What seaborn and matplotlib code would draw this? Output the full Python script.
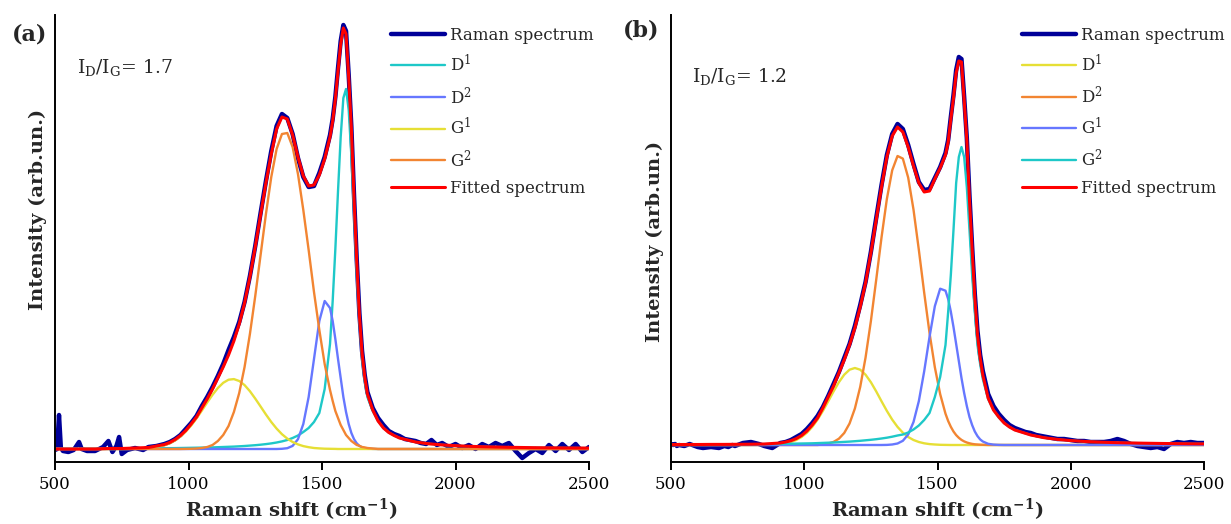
import matplotlib
matplotlib.use('Agg')
import matplotlib.pyplot as plt
import seaborn as sns

# wavenumber grid of the fitted curve and its components (cm-1)
shift = [500, 550, 600, 650, 700, 750, 800, 850,
         910, 930, 950, 970, 990, 1010, 1030, 1050, 1070, 1090,
         1110, 1130, 1150, 1170, 1190, 1210, 1230, 1250, 1270, 1290,
         1310, 1330, 1350, 1370, 1390, 1410, 1430, 1450, 1470, 1490,
         1510, 1530, 1540, 1550, 1560, 1570, 1580, 1590, 1600, 1610, 1620, 1630, 1640, 1650, 1660, 1670, 1690,
         1710, 1730, 1750, 1770, 1790,
         1850, 1900, 1950, 2000, 2050, 2100, 2150, 2200, 2250, 2300, 2350, 2400, 2450, 2500]

# wavenumber grid of the measured spectra (cm-1)
raman_shift = [500, 508, 515, 522, 530, 550, 570, 590, 600, 620, 650, 680, 700, 715, 730, 740, 750, 770, 800, 830, 850, 880,
               910, 930, 950, 970, 990, 1010, 1030, 1050, 1070, 1090,
               1110, 1130, 1150, 1170, 1190, 1210, 1230, 1250, 1270, 1290,
               1310, 1330, 1350, 1370, 1390, 1410, 1430, 1450, 1470, 1490,
               1510, 1530, 1540, 1550, 1560, 1570, 1580, 1590, 1600, 1610, 1620, 1630, 1640, 1650, 1660, 1670, 1690,
               1710, 1730, 1750, 1770, 1790,
               1810, 1830, 1850, 1870, 1890, 1910, 1930, 1950, 1975, 2000, 2025, 2050, 2075, 2100,
               2125, 2150, 2175, 2200, 2225, 2250, 2275, 2300, 2325, 2350, 2375, 2400, 2425, 2450, 2475, 2500]

# ---- panel (a), I_D/I_G = 1.7 ----
raman_a = [-1, 0, 34, 1, -2, -3, -1, 7, 0, -2, -2, 2, 8, -3, 3, 12, -5, -1, 1, -1, 2, 3,
           5, 7, 10, 14, 20, 26, 33, 43, 52, 62,
           73, 85, 99, 112, 127, 147, 173, 203, 236, 268,
           298, 323, 335, 331, 315, 291, 272, 262, 263, 276,
           292, 314, 330, 352, 381, 408, 424, 418, 374, 322, 253, 190, 136, 98, 74, 57, 41,
           31, 24, 18, 15, 13,
           10, 9, 8, 6, 5, 9, 4, 6, 2, 5, 1, 4, 0, 5,
           2, 6, 3, 6, -2, -9, -4, 0, -4, 4, -2, 5, -1, 5, -3, 2]
d1_a = [0.25, 0.3, 0.3, 0.35, 0.4, 0.45, 0.5, 0.6,
        0.8, 0.85, 0.9, 1.0, 1.1, 1.2, 1.3, 1.4, 1.5, 1.6,
        1.8, 2.0, 2.2, 2.4, 2.7, 3.0, 3.4, 3.8, 4.3, 4.9,
        5.6, 6.5, 7.6, 9.0, 11, 13.5, 17, 21, 27, 36,
        60, 105, 148, 200, 258, 312, 351, 360, 339, 293, 236, 175, 128, 90, 68, 52, 38,
        28, 21, 16.5, 13.5, 11,
        7, 5.2, 4.1, 3.3, 2.7, 2.3, 2.0, 1.7, 1.5, 1.3, 1.2, 1.1, 1.0, 0.9]
d2_a = [0, 0, 0, 0, 0, 0, 0, 0,
        0, 0, 0, 0, 0, 0, 0, 0, 0, 0,
        0, 0, 0, 0, 0, 0, 0, 0, 0, 0,
        0, 0, 0.2, 0.8, 3.1, 9.8, 25, 52, 90, 128,
        148, 141, 128, 110, 90, 71, 52, 37, 25, 16, 9.8, 5.7, 3.1, 1.7, 0.8, 0.4, 0.1,
        0, 0, 0, 0, 0,
        0, 0, 0, 0, 0, 0, 0, 0, 0, 0, 0, 0, 0, 0]
g1_a = [0, 0, 0, 0, 0, 0, 0.2, 0.8,
        3.7, 5.7, 8.6, 12.5, 17.5, 23.5, 30.6, 38.4, 46.5, 54.2,
        61, 66.2, 69.3, 69.9, 68, 63.9, 57.8, 50.4, 42.5, 34.5,
        27, 20.4, 14.8, 10.4, 7, 4.6, 2.9, 1.8, 1.0, 0.6,
        0.3, 0.2, 0.15, 0.1, 0, 0, 0, 0, 0, 0, 0, 0, 0, 0, 0, 0, 0,
        0, 0, 0, 0, 0,
        0, 0, 0, 0, 0, 0, 0, 0, 0, 0, 0, 0, 0, 0]
g2_a = [0, 0, 0, 0, 0, 0, 0, 0,
        0, 0, 0, 0, 0.1, 0.2, 0.5, 1, 2, 4,
        8, 14, 23, 37, 56, 82, 115, 153, 194, 235,
        272, 300, 315, 316, 302, 275, 239, 199, 157, 119,
        85, 59, 48, 38, 31, 24, 19, 14, 11, 8, 6, 4, 3.2, 2, 1.6, 1, 0.5,
        0, 0, 0, 0, 0,
        0, 0, 0, 0, 0, 0, 0, 0, 0, 0, 0, 0, 0, 0]
fit_a = [0, 0, 0, 0, 0.5, 0.5, 1, 1.5,
         4.5, 6.5, 9.5, 13.5, 18.5, 25, 32, 41, 50, 60,
         71, 82, 94, 108, 125, 146, 172, 202, 234, 266,
         295, 320, 332, 330, 314, 292, 273, 263, 264, 274,
         290, 312, 328, 350, 378, 405, 421, 415, 372, 320, 250, 188, 134, 96, 72, 55, 39,
         28, 21, 16.5, 13.5, 11,
         7, 5.2, 4.1, 3.3, 2.7, 2.3, 2.0, 1.7, 1.5, 1.3, 1.2, 1.1, 1.0, 0.9]

# ---- panel (b), I_D/I_G = 1.2 ----
raman_b = [1, 0, 1, -1, 0, -1, 1, -1, -2, -3, -2, -3, -1, -2, 0, -1, 0, 2, 3, 1, -1, -3,
           2, 3, 5, 8, 11, 16, 22, 29, 38, 49,
           61, 73, 87, 101, 119, 140, 163, 193, 227, 260,
           290, 311, 321, 316, 300, 281, 263, 255, 256, 267,
           278, 292, 305, 328, 350, 375, 388, 386, 348, 307, 249, 198, 151, 114, 90, 74, 51,
           39, 31, 25, 20, 17,
           15, 13, 12, 10, 9, 8, 7, 6, 6, 5, 4, 4, 3, 3,
           3, 4, 6, 4, 1, -1, -2, -3, -2, -4, 1, 3, 2, 3, 2, 2]
d1_b = [0, 0, 0, 0, 0, 0, 0, 0.1,
        0.9, 1.7, 3.0, 5.0, 8.0, 12.3, 18.1, 25.4, 34.1, 43.7,
        53.6, 62.8, 70.3, 75.3, 77, 75.3, 70.3, 62.8, 53.6, 43.7,
        34.1, 25.4, 18.1, 12.3, 8.0, 5.0, 3.0, 1.7, 0.9, 0.5,
        0.2, 0.1, 0.05, 0, 0, 0, 0, 0, 0, 0, 0, 0, 0, 0, 0, 0, 0,
        0, 0, 0, 0, 0,
        0, 0, 0, 0, 0, 0, 0, 0, 0, 0, 0, 0, 0, 0]
d2_b = [0, 0, 0, 0, 0, 0, 0, 0,
        0, 0, 0, 0, 0, 0, 0, 0, 0.6, 1.5,
        3.1, 6.3, 12, 21.5, 36.5, 58.1, 87.4, 123.8, 165.2, 207.7,
        246, 274.7, 289, 286.4, 267.4, 235.3, 195.1, 152.4, 112.2, 77.8,
        50.9, 31.3, 24, 18.2, 13.5, 9.9, 7.2, 5.1, 3.6, 2.5, 1.7, 1.1, 0.7, 0.5, 0.3, 0.2, 0,
        0, 0, 0, 0, 0,
        0, 0, 0, 0, 0, 0, 0, 0, 0, 0, 0, 0, 0, 0]
g1_b = [0, 0, 0, 0, 0, 0, 0, 0,
        0, 0, 0, 0, 0, 0, 0, 0, 0, 0,
        0, 0, 0, 0, 0, 0, 0, 0, 0, 0,
        0.1, 0.5, 1.5, 4.2, 10.5, 23, 43.9, 73.6, 108, 138.8,
        156.3, 154.3, 146, 133.4, 118, 101, 84, 67, 52, 39, 28, 19.9, 13.5, 8.9, 5.6, 3.5, 1.2,
        0.4, 0.1, 0, 0, 0,
        0, 0, 0, 0, 0, 0, 0, 0, 0, 0, 0, 0, 0, 0]
g2_b = [0.4, 0.45, 0.5, 0.55, 0.6, 0.7, 0.8, 0.9,
        1.1, 1.2, 1.3, 1.4, 1.5, 1.6, 1.7, 1.9, 2.1, 2.3,
        2.5, 2.8, 3.1, 3.4, 3.8, 4.2, 4.7, 5.2, 5.8, 6.5,
        7.3, 8.3, 9.5, 10.5, 12.5, 15.5, 19.5, 25, 32, 48,
        68, 100, 133, 170, 215, 262, 288, 298, 288, 258, 215, 170, 133, 100, 81, 66, 46,
        35, 27.5, 22, 18, 15,
        10, 7.3, 5.6, 4.4, 3.6, 3.0, 2.5, 2.2, 1.9, 1.7, 1.5, 1.35, 1.2, 1.1]
fit_b = [0.4, 0.5, 0.5, 0.6, 0.6, 0.7, 0.8, 1,
         2, 3, 4.3, 6.4, 9.5, 14, 20, 27, 37, 48,
         59, 72, 85, 100, 117, 138, 162, 192, 225, 258,
         288, 309, 318, 313, 298, 279, 262, 253, 254, 266,
         277, 290, 303, 326, 347, 372, 384, 383, 345, 305, 245, 195, 147, 110, 87, 70, 47,
         35, 28, 22, 18, 15,
         10, 7.3, 5.6, 4.4, 3.6, 3.0, 2.5, 2.2, 1.9, 1.7, 1.5, 1.35, 1.2, 1.1]

navy = '#000099'
cyan = '#1ec8c8'
periwinkle = '#6677ff'
yellow = '#e6df35'
orange = '#f28532'
red = '#ff0000'

sns.set_style('ticks')
plt.rcParams['font.family'] = ['DejaVu Serif']
plt.rcParams['mathtext.fontset'] = 'dejavuserif'

fig = plt.figure(figsize=(12.31, 5.24), dpi=100)
ax_a = fig.add_axes([55 / 1231, 62 / 524, 534 / 1231, 447 / 524])
ax_b = fig.add_axes([671 / 1231, 62 / 524, 533 / 1231, 447 / 524])

panels = [
    (ax_a, raman_a, [('D$^1$', d1_a, cyan), ('D$^2$', d2_a, periwinkle),
                     ('G$^1$', g1_a, yellow), ('G$^2$', g2_a, orange)],
     fit_a, '1.7', (-13, 434), (0.629, 0.973), (0.041, 0.870), (-0.032, 0.566), 0.442),
    (ax_b, raman_b, [('D$^1$', d1_b, yellow), ('D$^2$', d2_b, orange),
                     ('G$^1$', g1_b, periwinkle), ('G$^2$', g2_b, cyan)],
     fit_b, '1.2', (-17, 430), (0.6585, 0.974), (0.039, 0.850), (-0.030, 0.494), 0.5),
]

for ax, raman, comps, fit, ratio, ylim, leg_pos, txt_pos, ylab_pos, xlab_x in panels:
    sns.lineplot(x=raman_shift, y=raman, ax=ax, color=navy, lw=3.2,
                 label='Raman spectrum', estimator=None)
    for name, vals, col in comps:
        sns.lineplot(x=shift, y=vals, ax=ax, color=col, lw=1.7, label=name, estimator=None)
    sns.lineplot(x=shift, y=fit, ax=ax, color=red, lw=2.2, label='Fitted spectrum', estimator=None)

    ax.set_xlim(500, 2500)
    ax.set_ylim(*ylim)
    ax.set_xticks([500, 1000, 1500, 2000, 2500])
    ax.set_yticks([])
    sns.despine(ax=ax)
    for s in ['left', 'bottom']:
        ax.spines[s].set_linewidth(1.4)
        ax.spines[s].set_color('black')
    ax.tick_params(axis='x', direction='out', length=6, width=1.4, labelsize=12, pad=4, colors='black')

    ax.set_xlabel('Raman shift (cm$^{\\mathbf{-1}}$)', fontsize=14, fontweight='bold')
    ax.xaxis.label.set_va('center')
    ax.xaxis.set_label_coords(xlab_x, -0.107)
    ax.set_ylabel('Intensity (arb.un.)', fontsize=14, fontweight='bold')
    ax.yaxis.label.set_va('center')
    ax.yaxis.set_label_coords(*ylab_pos)

    ax.text(txt_pos[0], txt_pos[1], 'I$_\\mathrm{D}$/I$_\\mathrm{G}$= ' + ratio,
            transform=ax.transAxes, fontsize=13.5, va='baseline', ha='left')

    ax.legend(loc='upper left', bbox_to_anchor=leg_pos, frameon=False, fontsize=12,
              handlelength=3.24, handletextpad=0.3, labelspacing=0.6,
              borderpad=0, borderaxespad=0)

fig.text(12 / 1231, 1 - 34 / 524, '(a)', fontsize=16, fontweight='bold', va='center', ha='left')
fig.text(623 / 1231, 1 - 30 / 524, '(b)', fontsize=16, fontweight='bold', va='center', ha='left')

fig.savefig('out.png', dpi=100)
